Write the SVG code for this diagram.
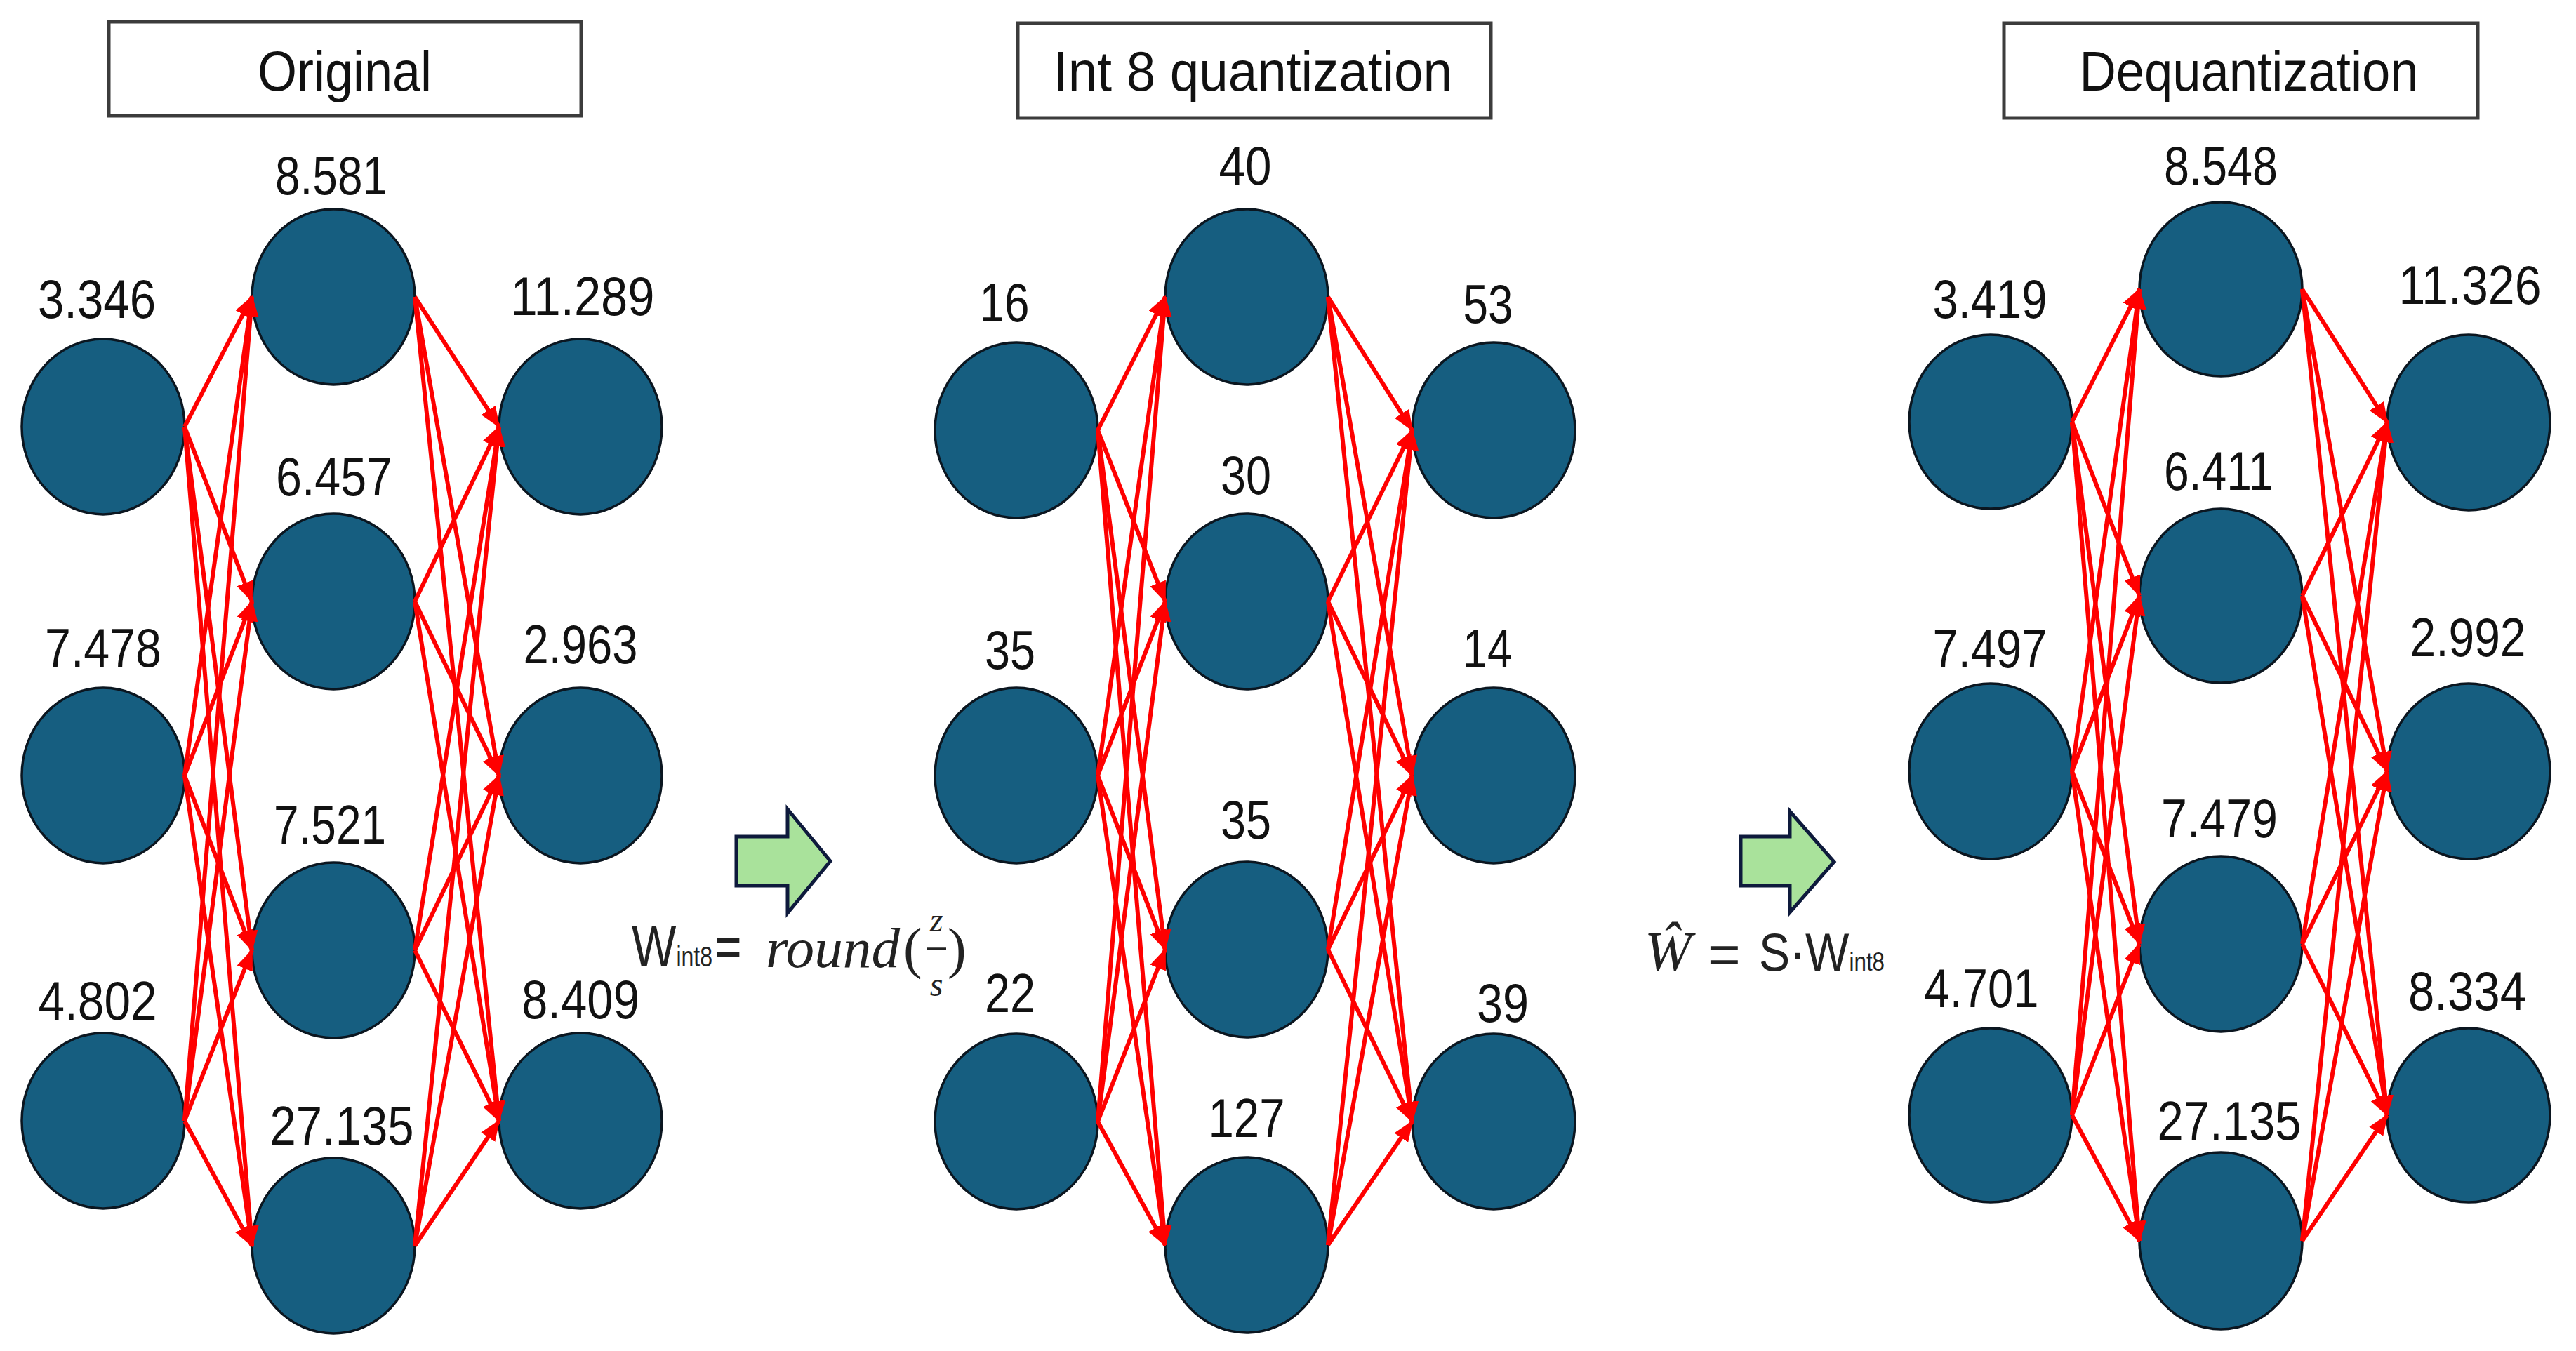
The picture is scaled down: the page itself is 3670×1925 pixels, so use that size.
<svg xmlns="http://www.w3.org/2000/svg" width="3670" height="1925" viewBox="0 0 3670 1925">
<style>
.node{fill:#165e80;stroke:#0b1620;stroke-width:3.5}
.lbl{font-family:"Liberation Sans",Arial,sans-serif;font-size:78px;fill:#111;text-anchor:middle}
.tbox{fill:#fff;stroke:#3c3c3c;stroke-width:5}
.ttl{font-family:"Liberation Sans",Arial,sans-serif;font-size:80px;fill:#111;text-anchor:middle}
.edge{stroke:#ff0000;stroke-width:6;fill:none;marker-end:url(#ah)}
.garrow{fill:#a9e29b;stroke:#0e1a3c;stroke-width:5;stroke-linejoin:miter}
.fs{font-family:"Liberation Sans",Arial,sans-serif;fill:#222}
.fm{font-family:"Liberation Serif","Times New Roman",serif;font-style:italic;fill:#222}
.fp{font-family:"Liberation Serif","Times New Roman",serif;fill:#222}
</style>
<defs>
<marker id="ah" markerUnits="userSpaceOnUse" markerWidth="30" markerHeight="24" viewBox="0 0 30 24" refX="28" refY="12" orient="auto">
<path d="M0,0 L30,12 L0,24 z" fill="#ff0000"/>
</marker>
</defs>
<rect width="3670" height="1925" fill="#fff"/>

<g id="title-original"><rect class="tbox" x="155" y="31" width="673" height="134"/><text class="ttl" x="491" y="129" textLength="248" lengthAdjust="spacingAndGlyphs">Original</text></g>
<g id="title-int8"><rect class="tbox" x="1450" y="33" width="674" height="135"/><text class="ttl" x="1785" y="129" textLength="568" lengthAdjust="spacingAndGlyphs">Int 8 quantization</text></g>
<g id="title-dequant"><rect class="tbox" x="2855" y="33" width="675" height="135"/><text class="ttl" x="3204" y="129" textLength="483" lengthAdjust="spacingAndGlyphs">Dequantization</text></g>

<!-- Left panel nodes -->
<g id="o-in1"><ellipse class="node" cx="147" cy="608" rx="116" ry="125"/><text class="lbl" x="138" y="453" textLength="168" lengthAdjust="spacingAndGlyphs">3.346</text></g>
<g id="o-in2"><ellipse class="node" cx="147" cy="1105" rx="116" ry="125"/><text class="lbl" x="147" y="950" textLength="166" lengthAdjust="spacingAndGlyphs">7.478</text></g>
<g id="o-in3"><ellipse class="node" cx="147" cy="1597" rx="116" ry="125"/><text class="lbl" x="139" y="1453" textLength="169" lengthAdjust="spacingAndGlyphs">4.802</text></g>
<g id="o-h1"><ellipse class="node" cx="475" cy="423" rx="116" ry="125"/><text class="lbl" x="472" y="277" textLength="160" lengthAdjust="spacingAndGlyphs">8.581</text></g>
<g id="o-h2"><ellipse class="node" cx="475" cy="857" rx="116" ry="125"/><text class="lbl" x="476" y="706" textLength="166" lengthAdjust="spacingAndGlyphs">6.457</text></g>
<g id="o-h3"><ellipse class="node" cx="475" cy="1354" rx="116" ry="125"/><text class="lbl" x="470" y="1202" textLength="160" lengthAdjust="spacingAndGlyphs">7.521</text></g>
<g id="o-h4"><ellipse class="node" cx="475" cy="1775" rx="116" ry="125"/><text class="lbl" x="487" y="1631" textLength="205" lengthAdjust="spacingAndGlyphs">27.135</text></g>
<g id="o-out1"><ellipse class="node" cx="827" cy="608" rx="116" ry="125"/><text class="lbl" x="830" y="449" textLength="205" lengthAdjust="spacingAndGlyphs">11.289</text></g>
<g id="o-out2"><ellipse class="node" cx="827" cy="1105" rx="116" ry="125"/><text class="lbl" x="827" y="945" textLength="163" lengthAdjust="spacingAndGlyphs">2.963</text></g>
<g id="o-out3"><ellipse class="node" cx="827" cy="1597" rx="116" ry="125"/><text class="lbl" x="827" y="1451" textLength="168" lengthAdjust="spacingAndGlyphs">8.409</text></g>

<!-- Middle panel nodes -->
<g id="q-in1"><ellipse class="node" cx="1448" cy="613" rx="116" ry="125"/><text class="lbl" x="1431" y="458" textLength="71" lengthAdjust="spacingAndGlyphs">16</text></g>
<g id="q-in2"><ellipse class="node" cx="1448" cy="1105" rx="116" ry="125"/><text class="lbl" x="1439" y="953" textLength="72" lengthAdjust="spacingAndGlyphs">35</text></g>
<g id="q-in3"><ellipse class="node" cx="1448" cy="1598" rx="116" ry="125"/><text class="lbl" x="1439" y="1442" textLength="72" lengthAdjust="spacingAndGlyphs">22</text></g>
<g id="q-h1"><ellipse class="node" cx="1776" cy="423" rx="116" ry="125"/><text class="lbl" x="1774" y="263" textLength="75" lengthAdjust="spacingAndGlyphs">40</text></g>
<g id="q-h2"><ellipse class="node" cx="1776" cy="857" rx="116" ry="125"/><text class="lbl" x="1775" y="704" textLength="72" lengthAdjust="spacingAndGlyphs">30</text></g>
<g id="q-h3"><ellipse class="node" cx="1776" cy="1353" rx="116" ry="125"/><text class="lbl" x="1775" y="1195" textLength="72" lengthAdjust="spacingAndGlyphs">35</text></g>
<g id="q-h4"><ellipse class="node" cx="1776" cy="1774" rx="116" ry="125"/><text class="lbl" x="1776" y="1620" textLength="109" lengthAdjust="spacingAndGlyphs">127</text></g>
<g id="q-out1"><ellipse class="node" cx="2128" cy="613" rx="116" ry="125"/><text class="lbl" x="2120" y="460" textLength="71" lengthAdjust="spacingAndGlyphs">53</text></g>
<g id="q-out2"><ellipse class="node" cx="2128" cy="1105" rx="116" ry="125"/><text class="lbl" x="2119" y="951" textLength="70" lengthAdjust="spacingAndGlyphs">14</text></g>
<g id="q-out3"><ellipse class="node" cx="2128" cy="1598" rx="116" ry="125"/><text class="lbl" x="2141" y="1456" textLength="74" lengthAdjust="spacingAndGlyphs">39</text></g>

<!-- Right panel nodes -->
<g id="d-in1"><ellipse class="node" cx="2836" cy="601" rx="116" ry="124"/><text class="lbl" x="2835" y="453" textLength="163" lengthAdjust="spacingAndGlyphs">3.419</text></g>
<g id="d-in2"><ellipse class="node" cx="2836" cy="1099" rx="116" ry="125"/><text class="lbl" x="2835" y="951" textLength="163" lengthAdjust="spacingAndGlyphs">7.497</text></g>
<g id="d-in3"><ellipse class="node" cx="2836" cy="1589" rx="116" ry="124"/><text class="lbl" x="2823" y="1435" textLength="163" lengthAdjust="spacingAndGlyphs">4.701</text></g>
<g id="d-h1"><ellipse class="node" cx="3164" cy="412" rx="116" ry="124"/><text class="lbl" x="3164" y="263" textLength="162" lengthAdjust="spacingAndGlyphs">8.548</text></g>
<g id="d-h2"><ellipse class="node" cx="3164" cy="849" rx="116" ry="124"/><text class="lbl" x="3161" y="698" textLength="156" lengthAdjust="spacingAndGlyphs">6.411</text></g>
<g id="d-h3"><ellipse class="node" cx="3164" cy="1345" rx="116" ry="125"/><text class="lbl" x="3162" y="1193" textLength="166" lengthAdjust="spacingAndGlyphs">7.479</text></g>
<g id="d-h4"><ellipse class="node" cx="3164" cy="1768" rx="116" ry="126"/><text class="lbl" x="3176" y="1624" textLength="205" lengthAdjust="spacingAndGlyphs">27.135</text></g>
<g id="d-out1"><ellipse class="node" cx="3517" cy="602" rx="116" ry="125"/><text class="lbl" x="3519" y="433" textLength="203" lengthAdjust="spacingAndGlyphs">11.326</text></g>
<g id="d-out2"><ellipse class="node" cx="3517" cy="1099" rx="116" ry="125"/><text class="lbl" x="3516" y="935" textLength="165" lengthAdjust="spacingAndGlyphs">2.992</text></g>
<g id="d-out3"><ellipse class="node" cx="3517" cy="1589" rx="116" ry="124"/><text class="lbl" x="3515" y="1439" textLength="168" lengthAdjust="spacingAndGlyphs">8.334</text></g>

<!-- Transition arrows and formulas -->
<g id="step-quantize">
<polygon class="garrow" points="1049,1192 1122,1192 1122,1153 1183,1227 1122,1301 1122,1262 1049,1262"/>
<text class="fs" transform="translate(900,1377) scale(0.8,1)" font-size="84">W<tspan font-size="40">int8</tspan><tspan font-size="82" dx="4">=</tspan></text>
<text class="fm" x="1091" y="1378" font-size="80" textLength="191" lengthAdjust="spacingAndGlyphs">round</text>
<text class="fp" x="1287" y="1378" font-size="80">(</text>
<text class="fm" x="1334" y="1327" font-size="48" text-anchor="middle">z</text>
<line x1="1320" y1="1352" x2="1348" y2="1352" stroke="#222" stroke-width="3.5"/>
<text class="fm" x="1334" y="1419" font-size="48" text-anchor="middle">s</text>
<text class="fp" x="1350" y="1378" font-size="80">)</text>
</g>
<g id="step-dequantize">
<polygon class="garrow" points="2480,1192 2550,1192 2550,1156 2613,1228 2550,1300 2550,1262 2480,1262"/>
<text class="fm" x="2343" y="1383" font-size="80">Ŵ</text>
<text class="fs" x="2433" y="1387" font-size="80">=</text>
<text class="fs" transform="translate(2506,1383) scale(0.87,1)" font-size="76">S·W<tspan font-size="36">int8</tspan></text>
</g>

<g id="connectors">
<!-- Original: input -> hidden -->
<line class="edge" x1="263" y1="608" x2="359" y2="423"/>
<line class="edge" x1="263" y1="608" x2="359" y2="857"/>
<line class="edge" x1="263" y1="608" x2="359" y2="1354"/>
<line class="edge" x1="263" y1="608" x2="359" y2="1775"/>
<line class="edge" x1="263" y1="1105" x2="359" y2="423"/>
<line class="edge" x1="263" y1="1105" x2="359" y2="857"/>
<line class="edge" x1="263" y1="1105" x2="359" y2="1354"/>
<line class="edge" x1="263" y1="1105" x2="359" y2="1775"/>
<line class="edge" x1="263" y1="1597" x2="359" y2="423"/>
<line class="edge" x1="263" y1="1597" x2="359" y2="857"/>
<line class="edge" x1="263" y1="1597" x2="359" y2="1354"/>
<line class="edge" x1="263" y1="1597" x2="359" y2="1775"/>
<!-- Original: hidden -> output -->
<line class="edge" x1="591" y1="423" x2="711" y2="608"/>
<line class="edge" x1="591" y1="423" x2="711" y2="1105"/>
<line class="edge" x1="591" y1="423" x2="711" y2="1597"/>
<line class="edge" x1="591" y1="857" x2="711" y2="608"/>
<line class="edge" x1="591" y1="857" x2="711" y2="1105"/>
<line class="edge" x1="591" y1="857" x2="711" y2="1597"/>
<line class="edge" x1="591" y1="1354" x2="711" y2="608"/>
<line class="edge" x1="591" y1="1354" x2="711" y2="1105"/>
<line class="edge" x1="591" y1="1354" x2="711" y2="1597"/>
<line class="edge" x1="591" y1="1775" x2="711" y2="608"/>
<line class="edge" x1="591" y1="1775" x2="711" y2="1105"/>
<line class="edge" x1="591" y1="1775" x2="711" y2="1597"/>
<!-- Int8: input -> hidden -->
<line class="edge" x1="1564" y1="613" x2="1660" y2="423"/>
<line class="edge" x1="1564" y1="613" x2="1660" y2="857"/>
<line class="edge" x1="1564" y1="613" x2="1660" y2="1353"/>
<line class="edge" x1="1564" y1="613" x2="1660" y2="1774"/>
<line class="edge" x1="1564" y1="1105" x2="1660" y2="423"/>
<line class="edge" x1="1564" y1="1105" x2="1660" y2="857"/>
<line class="edge" x1="1564" y1="1105" x2="1660" y2="1353"/>
<line class="edge" x1="1564" y1="1105" x2="1660" y2="1774"/>
<line class="edge" x1="1564" y1="1598" x2="1660" y2="423"/>
<line class="edge" x1="1564" y1="1598" x2="1660" y2="857"/>
<line class="edge" x1="1564" y1="1598" x2="1660" y2="1353"/>
<line class="edge" x1="1564" y1="1598" x2="1660" y2="1774"/>
<!-- Int8: hidden -> output -->
<line class="edge" x1="1892" y1="423" x2="2012" y2="613"/>
<line class="edge" x1="1892" y1="423" x2="2012" y2="1105"/>
<line class="edge" x1="1892" y1="423" x2="2012" y2="1598"/>
<line class="edge" x1="1892" y1="857" x2="2012" y2="613"/>
<line class="edge" x1="1892" y1="857" x2="2012" y2="1105"/>
<line class="edge" x1="1892" y1="857" x2="2012" y2="1598"/>
<line class="edge" x1="1892" y1="1353" x2="2012" y2="613"/>
<line class="edge" x1="1892" y1="1353" x2="2012" y2="1105"/>
<line class="edge" x1="1892" y1="1353" x2="2012" y2="1598"/>
<line class="edge" x1="1892" y1="1774" x2="2012" y2="613"/>
<line class="edge" x1="1892" y1="1774" x2="2012" y2="1105"/>
<line class="edge" x1="1892" y1="1774" x2="2012" y2="1598"/>
<!-- Dequant: input -> hidden -->
<line class="edge" x1="2952" y1="601" x2="3048" y2="412"/>
<line class="edge" x1="2952" y1="601" x2="3048" y2="849"/>
<line class="edge" x1="2952" y1="601" x2="3048" y2="1345"/>
<line class="edge" x1="2952" y1="601" x2="3048" y2="1768"/>
<line class="edge" x1="2952" y1="1099" x2="3048" y2="412"/>
<line class="edge" x1="2952" y1="1099" x2="3048" y2="849"/>
<line class="edge" x1="2952" y1="1099" x2="3048" y2="1345"/>
<line class="edge" x1="2952" y1="1099" x2="3048" y2="1768"/>
<line class="edge" x1="2952" y1="1589" x2="3048" y2="412"/>
<line class="edge" x1="2952" y1="1589" x2="3048" y2="849"/>
<line class="edge" x1="2952" y1="1589" x2="3048" y2="1345"/>
<line class="edge" x1="2952" y1="1589" x2="3048" y2="1768"/>
<!-- Dequant: hidden -> output -->
<line class="edge" x1="3280" y1="412" x2="3401" y2="602"/>
<line class="edge" x1="3280" y1="412" x2="3401" y2="1099"/>
<line class="edge" x1="3280" y1="412" x2="3401" y2="1589"/>
<line class="edge" x1="3280" y1="849" x2="3401" y2="602"/>
<line class="edge" x1="3280" y1="849" x2="3401" y2="1099"/>
<line class="edge" x1="3280" y1="849" x2="3401" y2="1589"/>
<line class="edge" x1="3280" y1="1345" x2="3401" y2="602"/>
<line class="edge" x1="3280" y1="1345" x2="3401" y2="1099"/>
<line class="edge" x1="3280" y1="1345" x2="3401" y2="1589"/>
<line class="edge" x1="3280" y1="1768" x2="3401" y2="602"/>
<line class="edge" x1="3280" y1="1768" x2="3401" y2="1099"/>
<line class="edge" x1="3280" y1="1768" x2="3401" y2="1589"/>
</g>
</svg>
